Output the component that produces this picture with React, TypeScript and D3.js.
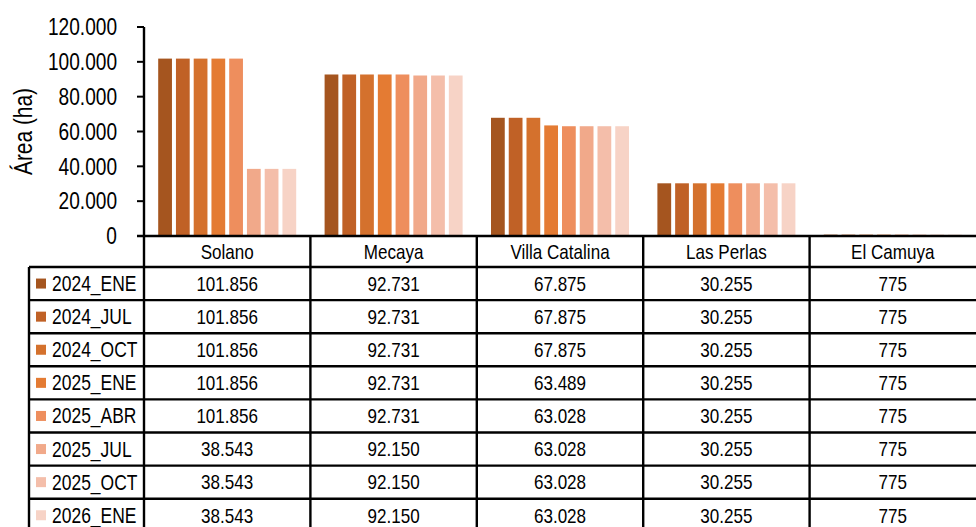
import React from 'react';
import * as d3 from 'd3';

const categories = ['Solano', 'Mecaya', 'Villa Catalina', 'Las Perlas', 'El Camuya'];
const periods = ['2024_ENE', '2024_JUL', '2024_OCT', '2025_ENE', '2025_ABR', '2025_JUL', '2025_OCT', '2026_ENE'];
const colors = ['#A5551F', '#C06126', '#D4712D', '#E47B33', '#EE8E5D', '#F1A98A', '#F4BEAA', '#F7D3C6'];

// one array per period, values in category order
const s2024Ene = [101856, 92731, 67875, 30255, 775];
const s2024Jul = [101856, 92731, 67875, 30255, 775];
const s2024Oct = [101856, 92731, 67875, 30255, 775];
const s2025Ene = [101856, 92731, 63489, 30255, 775];
const s2025Abr = [101856, 92731, 63028, 30255, 775];
const s2025Jul = [38543, 92150, 63028, 30255, 775];
const s2025Oct = [38543, 92150, 63028, 30255, 775];
const s2026Ene = [38543, 92150, 63028, 30255, 775];

const series = [s2024Ene, s2024Jul, s2024Oct, s2025Ene, s2025Abr, s2025Jul, s2025Oct, s2026Ene];

const W = 976;
const H = 527;
const FONT = '"Liberation Sans", Arial, sans-serif';
const SQUEEZE = 0.82; // the original uses a narrow face

const locale = d3.formatLocale({ decimal: ',', thousands: '.', grouping: [3], currency: ['$', ''] });
const fmt = locale.format(',d');

// narrow text: plain font squeezed horizontally
const NText = ({ x, y, anchor = 'start', size = 20, rotate = 0, children }) => (
  <text
    transform={`translate(${x},${y}) rotate(${rotate}) scale(${SQUEEZE},1)`}
    textAnchor={anchor}
    dy="0.35em"
    fontSize={size}
    fill="#000"
  >
    {children}
  </text>
);

const App = () => {
  const plotLeft = 144;
  const plotRight = 976;
  const plotTop = 27;
  const plotBottom = 236;
  const legendLeft = 29;
  const headerBottom = 267;
  const rowH = 33.1;

  const x0 = d3.scaleBand().domain(categories).range([plotLeft, plotRight]).padding(0);
  const x1 = d3.scaleBand()
    .domain(periods)
    .range([0, x0.bandwidth()])
    .paddingInner(0.225)
    .paddingOuter(0.8);
  const y = d3.scaleLinear().domain([0, 120000]).range([plotBottom, plotTop]);
  const ticks = y.ticks(6);

  const tableBottom = headerBottom + rowH * periods.length;

  return (
    <svg
      width={W}
      height={H}
      style={{ position: 'absolute', left: 0, top: 0, background: '#fff', fontFamily: FONT }}
    >
      {/* bars */}
      {categories.map((c, ci) => (
        <g key={c} transform={`translate(${x0(c)},0)`}>
          {periods.map((p, pi) => (
            <rect
              key={p}
              x={x1(p)}
              y={y(series[pi][ci])}
              width={x1.bandwidth()}
              height={plotBottom - y(series[pi][ci])}
              fill={colors[pi]}
            />
          ))}
        </g>
      ))}

      {/* y axis */}
      {ticks.map(t => (
        <g key={t}>
          <line x1={plotLeft - 7} x2={plotLeft} y1={y(t)} y2={y(t)} stroke="#000" strokeWidth={2} />
          <NText x={117} y={y(t)} anchor="end" size={23.3}>{fmt(t)}</NText>
        </g>
      ))}
      <NText x={23} y={(plotTop + plotBottom) / 2 + 0} anchor="middle" size={25.5} rotate={-90}>
        Área (ha)
      </NText>

      {/* category header row */}
      {categories.map(c => (
        <NText key={c} x={x0(c) + x0.bandwidth() / 2} y={(plotBottom + headerBottom) / 2} anchor="middle" size={20.8}>
          {c}
        </NText>
      ))}

      {/* data table rows */}
      {periods.map((p, pi) => {
        const top = headerBottom + rowH * pi;
        const cy = top + rowH / 2;
        return (
          <g key={p}>
            <rect x={36} y={cy - 5} width={10} height={10} fill={colors[pi]} />
            <NText x={52} y={cy} size={21.3}>{p}</NText>
            {categories.map((c, ci) => (
              <NText key={c} x={x0(c) + x0.bandwidth() / 2} y={cy} anchor="middle" size={20.8}>
                {fmt(series[pi][ci])}
              </NText>
            ))}
          </g>
        );
      })}

      {/* grid lines */}
      <line x1={plotLeft - 7} x2={plotRight} y1={plotBottom} y2={plotBottom} stroke="#000" strokeWidth={2.4} />
      <line x1={plotLeft} x2={plotLeft} y1={plotTop} y2={tableBottom} stroke="#000" strokeWidth={2.4} />
      {periods.map((p, pi) => (
        <line
          key={p}
          x1={legendLeft}
          x2={plotRight}
          y1={headerBottom + rowH * pi}
          y2={headerBottom + rowH * pi}
          stroke="#000"
          strokeWidth={2.4}
        />
      ))}
      <line x1={legendLeft} x2={legendLeft} y1={headerBottom} y2={tableBottom} stroke="#000" strokeWidth={2.4} />
      {categories.slice(1).map(c => (
        <line key={c} x1={x0(c)} x2={x0(c)} y1={plotBottom} y2={tableBottom} stroke="#000" strokeWidth={2.4} />
      ))}
    </svg>
  );
};

export default App;
